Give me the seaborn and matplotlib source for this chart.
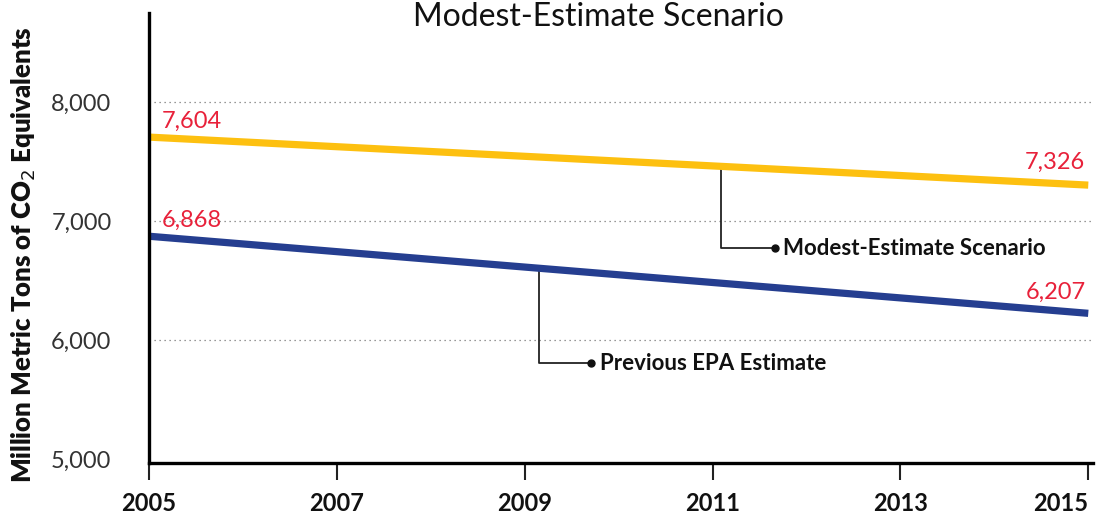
import numpy as np
import pandas as pd
import seaborn as sns
import matplotlib.pyplot as plt

# data
years = [2005, 2015]
modest_line = [7706, 7303]
previous_line = [6874, 6227]
modest_labels = ["7,604", "7,326"]
previous_labels = ["6,868", "6,207"]
series_names = ["Modest-Estimate Scenario", "Previous EPA Estimate"]
x_ticks = [2005, 2007, 2009, 2011, 2013, 2015]
y_ticks = [5000, 6000, 7000, 8000]

# callout anchors (x on line, x of dot, y of label)
callout_x = [2011.09, 2009.15]
callout_dot_x = [2011.66, 2009.71]
callout_y = [6773, 5807]

yellow = "#FDC010"
blue = "#253E90"
red = "#E8213A"

sns.set_theme(style="white")
plt.rcParams['font.family'] = ['Lato', 'DejaVu Sans']

df = pd.DataFrame({
    'year': years * 2,
    'value': modest_line + previous_line,
    'series': [series_names[0]] * 2 + [series_names[1]] * 2,
})

fig = plt.figure(figsize=(11.04, 5.18), dpi=100)
ax = fig.add_axes([0.135, 0.106, 0.855, 0.869])

sns.lineplot(data=df, x='year', y='value', hue='series',
             palette=[yellow, blue], linewidth=5.2, legend=False, ax=ax)
for ln in ax.get_lines():
    ln.set_solid_capstyle('butt')

ax.set_xlim(2005, 2015.05)
ax.set_ylim(4970, 8748)
ax.set_xticks(x_ticks)
ax.set_yticks(y_ticks)
ax.set_yticklabels([f"{v:,}" for v in y_ticks])
ax.set_xlabel("")
ax.set_ylabel("Million Metric Tons of CO$_2$ Equivalents", fontsize=18.5,
              fontweight='heavy', color='#111111')
ax.yaxis.set_label_coords(-0.118, 0.464)

for side in ['top', 'right']:
    ax.spines[side].set_visible(False)
for side in ['left', 'bottom']:
    ax.spines[side].set_color('black')
    ax.spines[side].set_linewidth(2.4)

ax.tick_params(axis='x', length=12, width=1.5, color='#222222', pad=9,
               labelsize=17, direction='out', bottom=True)
for lab in ax.get_xticklabels():
    lab.set_fontweight('bold')
    lab.set_color('#111111')
ax.get_xticklabels()[-1].set_horizontalalignment('right')
ax.tick_params(axis='y', length=0, pad=27, labelsize=17, labelcolor='#333333')

ax.yaxis.grid(True, linestyle=(0, (1, 3)), color='#777777', linewidth=0.9)
ax.get_ygridlines()[0].set_visible(False)
ax.set_axisbelow(True)

# value labels
ax.text(years[0] + 0.14, 7840, modest_labels[0], color=red, fontsize=17,
        ha='left', va='center')
ax.text(years[0] + 0.14, 7010, previous_labels[0], color=red, fontsize=17,
        ha='left', va='center')
ax.text(years[1] - 0.03, 7490, modest_labels[1], color=red, fontsize=17,
        ha='right', va='center')
ax.text(years[1] - 0.03, 6400, previous_labels[1], color=red, fontsize=17,
        ha='right', va='center')

# callouts
lines_data = [modest_line, previous_line]
for i in range(2):
    y_on_line = np.interp(callout_x[i], years, lines_data[i])
    ax.plot([callout_x[i], callout_x[i], callout_dot_x[i]],
            [y_on_line, callout_y[i], callout_y[i]],
            color='#222222', linewidth=1.3, zorder=1)
    ax.plot([callout_dot_x[i]], [callout_y[i]], marker='o', markersize=5,
            color='#111111', zorder=3)
    ax.text(callout_dot_x[i] + 0.09, callout_y[i], series_names[i],
            fontsize=16, fontweight='bold', color='#111111',
            ha='left', va='center')

fig.text(598 / 1104, 1 - 26 / 518, "Modest-Estimate Scenario",
         fontsize=23, fontweight='normal', color='#111111',
         ha='center', va='baseline')

plt.savefig("out.png", dpi=100)
